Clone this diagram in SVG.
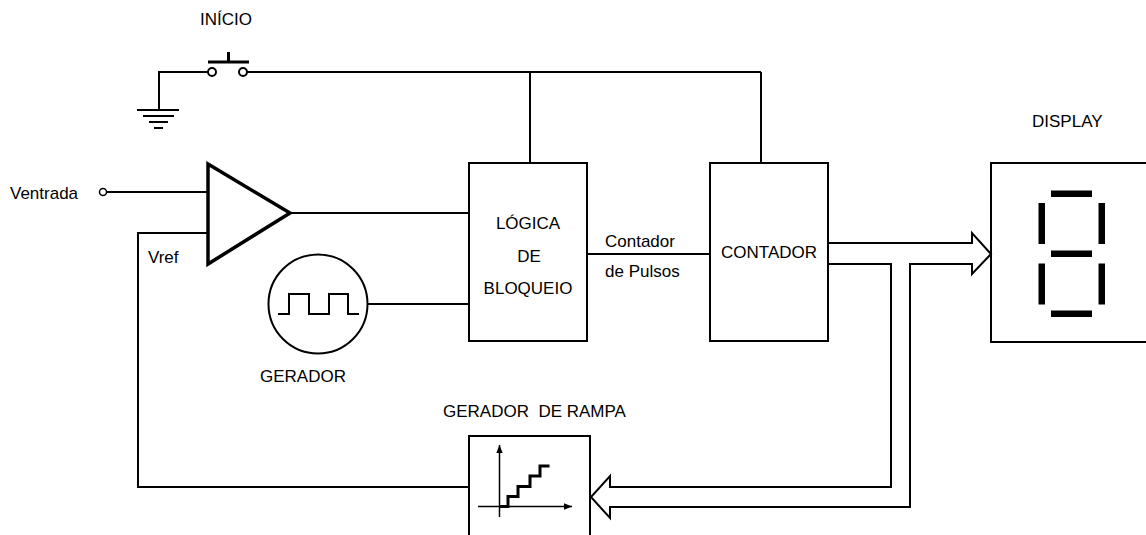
<svg xmlns="http://www.w3.org/2000/svg" width="1146" height="535" viewBox="0 0 1146 535">
<style>
text{font-family:"Liberation Sans",Arial,sans-serif;font-size:17px;fill:#000}
.ln{fill:none;stroke:#000;stroke-width:2}
.th{fill:none;stroke:#000;stroke-width:3.5}
.seg{fill:#000}
</style>
<defs>
<marker id="ah" viewBox="0 0 10 10" refX="10" refY="5" markerWidth="8" markerHeight="8" markerUnits="userSpaceOnUse" orient="auto">
<path d="M0,1 L10,5 L0,9 Z" fill="#000"/>
</marker>
</defs>
<rect width="1146" height="535" fill="#fff"/>

<g id="connectors">
<!-- ground to switch -->
<polyline class="ln" points="159,110 159,72 208,72"/>
<!-- switch to blocks -->
<line class="ln" x1="247" y1="72" x2="761" y2="72"/>
<line class="ln" x1="530" y1="72" x2="530" y2="163"/>
<line class="ln" x1="761" y1="72" x2="761" y2="163"/>
<!-- Ventrada input -->
<line class="ln" x1="107" y1="192" x2="208" y2="192"/>
<!-- amp output -->
<line class="ln" x1="290" y1="213" x2="469" y2="213"/>
<!-- gerador to logica -->
<line class="ln" x1="367" y1="304" x2="469" y2="304"/>
<!-- logica to contador -->
<line class="ln" x1="587" y1="254" x2="710" y2="254"/>
<!-- Vref feedback -->
<polyline class="ln" points="208,233 138,233 138,487 469,487"/>
<!-- bus arrow to display -->
<path class="ln" d="M828,243 H972 V233 L991,254 L972,274 V264 H910 V507 H610 V518 L591,497 L610,476 V487 H891 V264 H828"/>
</g>

<g id="ground">
<line class="ln" x1="137" y1="110" x2="179" y2="110"/>
<line class="ln" x1="143" y1="116" x2="174" y2="116"/>
<line class="ln" x1="149" y1="122" x2="168" y2="122"/>
<line class="ln" x1="154" y1="128" x2="163" y2="128"/>
</g>

<g id="inicio">
<text x="200" y="25">INÍCIO</text>
<circle cx="212" cy="72" r="4" fill="#fff" stroke="#000" stroke-width="2"/>
<circle cx="243" cy="72" r="4" fill="#fff" stroke="#000" stroke-width="2"/>
<line x1="208" y1="62" x2="249" y2="62" stroke="#000" stroke-width="3"/>
<line x1="228.5" y1="52" x2="228.5" y2="62" stroke="#000" stroke-width="3"/>
</g>

<g id="ventrada">
<text x="10" y="199">Ventrada</text>
<circle cx="103" cy="192" r="3.5" fill="#fff" stroke="#000" stroke-width="1.5"/>
</g>

<g id="amplificador">
<polygon class="th" points="208,164 290,213 208,264"/>
<text x="148" y="263">Vref</text>
</g>

<g id="gerador">
<circle class="ln" cx="318" cy="304" r="49.5"/>
<polyline class="ln" points="278,314 289,314 289,294 309,294 309,314 329,314 329,294 348,294 348,314 359,314"/>
<text x="303" y="382" text-anchor="middle">GERADOR</text>
</g>

<g id="logica">
<rect class="ln" x="469" y="163" width="118" height="178"/>
<text x="528" y="229" text-anchor="middle">LÓGICA</text>
<text x="529" y="262" text-anchor="middle">DE</text>
<text x="528" y="294" text-anchor="middle">BLOQUEIO</text>
</g>

<g id="pulsos">
<text x="605" y="247">Contador</text>
<text x="605" y="277">de Pulsos</text>
</g>

<g id="contador">
<rect class="ln" x="710" y="163" width="118" height="178"/>
<text x="769" y="258" text-anchor="middle">CONTADOR</text>
</g>

<g id="display">
<text x="1032" y="127">DISPLAY</text>
<rect class="ln" x="991" y="163" width="170" height="179"/>
<rect class="seg" x="1051" y="190.5" width="41" height="6.5"/>
<rect class="seg" x="1051" y="250.5" width="41" height="6.5"/>
<rect class="seg" x="1051" y="310.5" width="41" height="6.5"/>
<rect class="seg" x="1038.5" y="203" width="6.5" height="41"/>
<rect class="seg" x="1098.5" y="203" width="6.5" height="41"/>
<rect class="seg" x="1038.5" y="263.5" width="6.5" height="41"/>
<rect class="seg" x="1098.5" y="263.5" width="6.5" height="41"/>
</g>

<g id="rampa">
<text x="443" y="417" xml:space="preserve">GERADOR  DE RAMPA</text>
<rect class="ln" x="469" y="436" width="121" height="120"/>
<line x1="499.5" y1="517" x2="499.5" y2="445" stroke="#000" stroke-width="1.5" marker-end="url(#ah)"/>
<line x1="478" y1="506.5" x2="572" y2="506.5" stroke="#000" stroke-width="1.5" marker-end="url(#ah)"/>
<polyline fill="none" stroke="#000" stroke-width="3" points="500,506.5 508,506.5 508,496.5 518,496.5 518,486.5 530,486.5 530,476 540,476 540,466 549.5,466"/>
</g>
</svg>
